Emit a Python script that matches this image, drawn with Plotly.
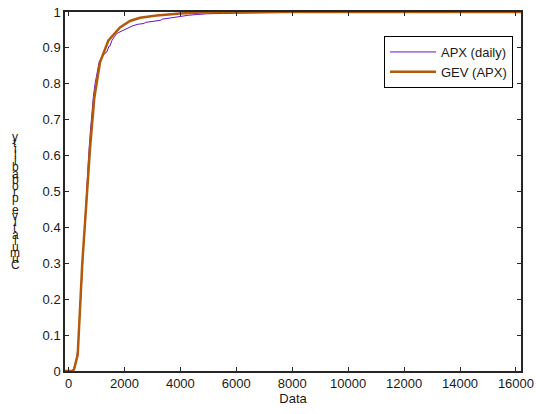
import plotly.graph_objects as go

# GEV fitted CDF (x, probability)
gev_x = [-125, 0, 150, 200, 330, 493, 615, 650, 770, 922, 1126, 1423, 1841, 2200, 2556, 3153, 3986, 5000, 6000, 16180]
gev_p = [0, 0, 0, 0.005, 0.045, 0.30, 0.45, 0.49, 0.62, 0.76, 0.86, 0.92, 0.957, 0.975, 0.984, 0.99, 0.996, 0.999, 1.0, 1.0]

# Empirical CDF of APX daily data
apx_x = [100, 200, 300, 340, 400, 450, 500, 560, 620, 680, 720, 780, 840, 890, 950, 1020, 1100, 1200, 1300,
         1365, 1450, 1480, 1550, 1650, 1723, 1800, 1850, 2000, 2150, 2200, 2307, 2500, 2700, 2750, 2914,
         3100, 3300, 3350, 3510, 3750, 3986, 4300, 4600, 4940, 5500, 6200, 7000, 8000, 8820, 16180]
apx_p = [0, 0.008, 0.04, 0.07, 0.15, 0.22, 0.31, 0.40, 0.47, 0.55, 0.60, 0.665, 0.725, 0.765, 0.80, 0.835, 0.862,
         0.875, 0.885, 0.888, 0.905, 0.905, 0.92, 0.932, 0.94, 0.943, 0.945, 0.95, 0.955, 0.958, 0.962, 0.966,
         0.968, 0.971, 0.973, 0.976, 0.977, 0.980, 0.982, 0.986, 0.989, 0.991, 0.993, 0.995, 0.996, 0.997,
         0.998, 0.999, 1.0, 1.0]

x_ticks = [0, 2000, 4000, 6000, 8000, 10000, 12000, 14000, 16000]
y_ticks = [0, 0.1, 0.2, 0.3, 0.4, 0.5, 0.6, 0.7, 0.8, 0.9, 1]
y_tick_text = ["0", "0.1", "0.2", "0.3", "0.4", "0.5", "0.6", "0.7", "0.8", "0.9", "1"]
y_title = "Cumulative probability"

FONT = "Liberation Sans, Arial, sans-serif"

fig = go.Figure()
fig.add_trace(go.Scatter(x=apx_x, y=apx_p, mode="lines",
                         line=dict(color="#6A10CC", width=1), name="APX (daily)"))
fig.add_trace(go.Scatter(x=gev_x, y=gev_p, mode="lines",
                         line=dict(color="#B35A0A", width=2.5), name="GEV (APX)"))

axis_common = dict(showline=True, mirror="ticks", linecolor="#262626", linewidth=1.5,
                   ticks="inside", ticklen=4, tickcolor="#262626", showgrid=False, zeroline=False,
                   automargin=False,
                   tickfont=dict(family=FONT, size=13, color="#1a1a1a"))

fig.update_xaxes(range=[-125, 16180], tickvals=x_ticks, ticktext=[str(v) for v in x_ticks],
                 title=dict(text="Data", font=dict(family=FONT, size=13, color="#1a1a1a"), standoff=4),
                 **axis_common)
fig.update_yaxes(range=[0, 1], tickvals=y_ticks, ticktext=y_tick_text, **axis_common)

# stacked upright characters for the y-axis title, bottom to top
chars = list(y_title)
n = len(chars)
top_px, bot_px = 137, 265
for i, ch in enumerate(chars):
    ypx = bot_px - i * (bot_px - top_px) / (n - 1)
    fig.add_annotation(text=ch, xref="paper", yref="paper",
                       x=(15 - 65) / 456, y=(371 - ypx) / 359,
                       showarrow=False, xanchor="center", yanchor="middle",
                       font=dict(family=FONT, size=12, color="#1a1a1a"))

fig.update_layout(
    width=536, height=414,
    margin=dict(l=65, r=15, t=12, b=43, autoexpand=False),
    plot_bgcolor="white", paper_bgcolor="white",
    showlegend=True,
    legend=dict(x=(513 - 65) / 456, y=(371 - 36) / 359, xanchor="right", yanchor="top",
                bgcolor="white", bordercolor="#000000", borderwidth=1,
                font=dict(family=FONT, size=13, color="#1a1a1a"),
                tracegroupgap=0, itemwidth=46),
)

fig.write_html("out.html")
